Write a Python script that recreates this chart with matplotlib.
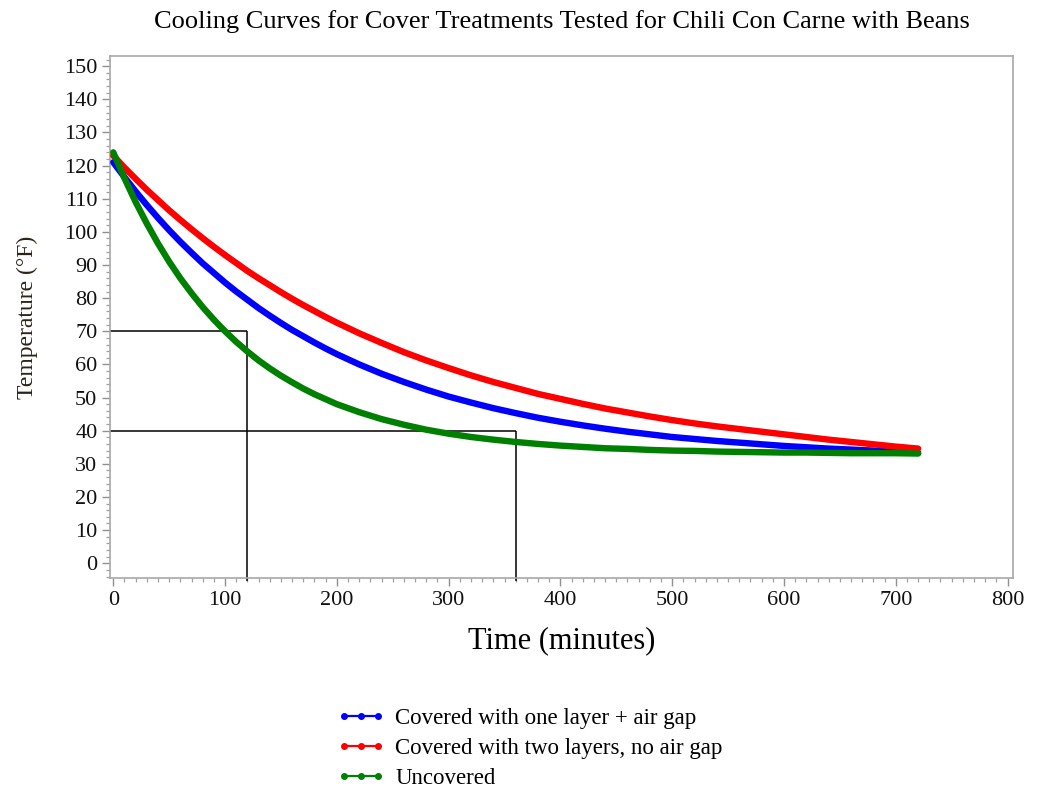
import matplotlib
matplotlib.use("Agg")
import matplotlib.pyplot as plt
from matplotlib.ticker import MultipleLocator
from matplotlib.lines import Line2D

plt.rcParams['font.family'] = ['Liberation Serif', 'DejaVu Serif']

# time in minutes, temperatures in degrees F
minutes = [0, 10, 20, 30, 40, 50, 60, 70, 80, 90, 100, 110, 120, 130, 140, 150, 160,
           170, 180, 190, 200, 220, 240, 260, 280, 300, 320, 340, 360, 380, 400, 420,
           440, 460, 480, 500, 520, 540, 560, 580, 600, 620, 640, 660, 680, 700, 720]

one_layer_gap = [121.0, 116.5, 112.2, 108.1, 104.2, 100.5, 97.0, 93.7, 90.5, 87.6,
                 84.7, 82.0, 79.5, 77.0, 74.7, 72.5, 70.4, 68.5, 66.6, 64.8, 63.1,
                 60.0, 57.2, 54.7, 52.4, 50.3, 48.5, 46.8, 45.3, 43.9, 42.7, 41.6, 40.6,
                 39.7, 38.9, 38.1, 37.5, 36.9, 36.4, 35.9, 35.4, 35.0, 34.6, 34.3, 34.0,
                 33.6, 33.3]

two_layers = [123.0, 119.4, 116.0, 112.7, 109.6, 106.5, 103.6, 100.8, 98.1, 95.5,
              93.0, 90.6, 88.2, 86.0, 83.9, 81.8, 79.8, 77.9, 76.1, 74.3, 72.6,
              69.4, 66.5, 63.7, 61.2, 58.9, 56.7, 54.7, 52.9, 51.1, 49.6, 48.1, 46.7,
              45.5, 44.3, 43.2, 42.2, 41.3, 40.5, 39.7, 38.9, 38.1, 37.3, 36.6, 35.9,
              35.2, 34.6]

uncovered = [124.0, 116.2, 109.0, 102.5, 96.5, 91.0, 86.0, 81.5, 77.3, 73.5, 70.0,
             66.8, 63.9, 61.2, 58.8, 56.6, 54.6, 52.7, 51.0, 49.5, 48.0, 45.6,
             43.5, 41.8, 40.3, 39.1, 38.1, 37.3, 36.6, 36.0, 35.5, 35.1, 34.7, 34.5,
             34.2, 34.0, 33.9, 33.7, 33.6, 33.5, 33.4, 33.4, 33.3, 33.2, 33.2, 33.2, 33.1]

series_labels = ['Covered with one layer + air gap',
                 'Covered with two layers, no air gap',
                 'Uncovered']
series_colors = ['#0000ff', '#ff0000', '#008000']

# reference lines: time limits and temperature thresholds
ref_times = [120, 360]
ref_temps = [70, 40]

xlim = (-3, 805)
ylim = (-4.5, 153)

fig = plt.figure(figsize=(10.37, 7.92), dpi=100)
ax = fig.add_axes([0.106, 0.270, 0.871, 0.659])

for ys, lab, col in zip([one_layer_gap, two_layers, uncovered], series_labels, series_colors):
    ax.plot(minutes, ys, color=col, lw=4.6, solid_capstyle='round',
            solid_joinstyle='round', label=lab, zorder=3)

for t, temp in zip(ref_times, ref_temps):
    ax.hlines(temp, xlim[0], t, color='black', lw=1.1, zorder=2)
    ax.vlines(t, ylim[0] - 0.8, temp, color='black', lw=1.1, zorder=2, clip_on=False)

ax.set_xlim(*xlim)
ax.set_ylim(*ylim)
ax.xaxis.set_major_locator(MultipleLocator(100))
ax.xaxis.set_minor_locator(MultipleLocator(10))
ax.yaxis.set_major_locator(MultipleLocator(10))
ax.yaxis.set_minor_locator(MultipleLocator(2))

for s in ax.spines.values():
    s.set_color('#a8a8a8')
    s.set_linewidth(1.2)

ax.tick_params(which='major', direction='out', length=6, width=1.0, color='#909090',
               labelsize=16, labelcolor='#111111', pad=3)
ax.tick_params(which='minor', direction='out', length=3, width=0.9, color='#a0a0a0')

ax.set_xlabel('Time (minutes)', fontsize=22, labelpad=12)
ax.set_ylabel('Temperature (°F)', fontsize=17, color='#2a2418', labelpad=19)
ax.set_title('Cooling Curves for Cover Treatments Tested for Chili Con Carne with Beans',
             fontsize=19, pad=20)

# legend handles: thin line with three dots
handles = [Line2D([0], [0], color=c, lw=1.6, marker='o', markersize=4) for c in series_colors]
ax.legend(handles, series_labels, loc='upper center', bbox_to_anchor=(0.465, -0.21),
          frameon=False, fontsize=16.5, numpoints=3, handlelength=2.1,
          handletextpad=0.45, labelspacing=0.38)

fig.savefig('out.png', dpi=100)
